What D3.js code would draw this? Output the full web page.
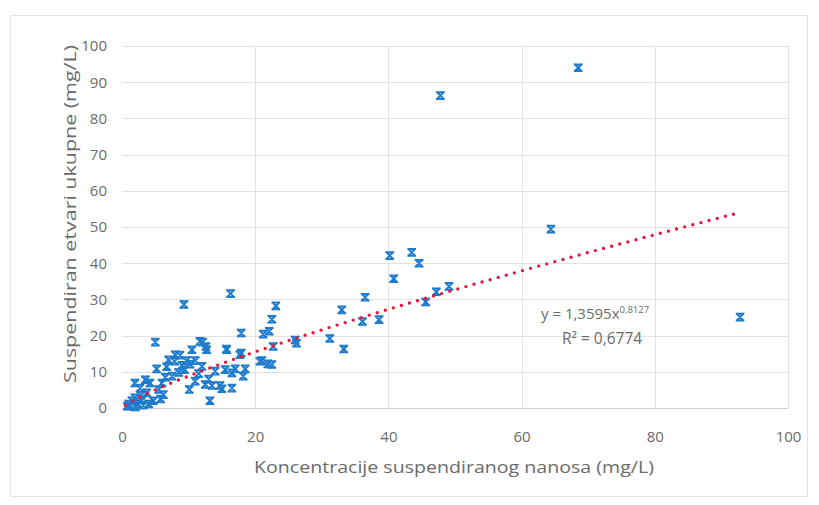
<!DOCTYPE html>
<html><head><meta charset="utf-8">
<script src="https://cdn.jsdelivr.net/npm/d3@7"></script>
<style>html,body{margin:0;padding:0;background:#fff;}svg{display:block;}</style>
</head><body>
<svg id="c" width="819" height="505"></svg>
<script>
const xConc = [68.5,47.8,64.4,92.8,40.2,43.5,44.6,40.8,36.5,33.0,36.1,38.6,31.2,33.3,45.6,47.2,49.1,
 23.1,22.5,22.1,21.2,22.7,26.0,26.2,16.3,9.3,5.0,17.9,12.1,12.6,11.7,10.5,15.7,17.9,21.0,21.9,20.7,22.5,
 7.9,9.7,11.0,6.7,5.2,9.4,7.5,11.5,14.0,15.5,17.0,18.5,18.2,16.5,11.0,12.5,13.5,14.7,15.0,10.1,16.5,13.2,
 1.95,3.5,4.2,2.7,6.0,5.5,3.7,6.2,4.7,4.0,1.95,2.4,1.2,1.5,1.0,3.2,8.0,7.0,8.7,12.7,17.7,15.7,
 9.0,10.2,12.0,8.5,6.5,13.0,2.8,3.0,5.8,0.8,2.0];
const ySusp = [94.0,86.3,49.4,25.1,42.1,43.0,40.0,35.7,30.6,27.1,23.9,24.4,19.2,16.3,29.3,32.1,33.6,
 28.2,24.5,21.2,20.4,17.0,18.8,17.9,31.6,28.6,18.2,20.7,18.2,17.0,18.4,16.1,16.3,15.2,13.1,12.2,12.9,12.0,
 12.9,13.1,13.1,11.4,10.8,10.6,8.8,9.5,10.2,10.6,10.8,10.8,8.8,9.7,7.4,6.5,6.2,6.2,5.3,5.1,5.5,2.0,
 6.9,7.8,6.9,5.5,6.9,5.1,4.2,3.7,2.0,1.1,2.8,1.1,0.6,2.0,1.1,0.8,14.7,13.3,14.6,16.1,14.7,16.1,
 11.8,12.1,11.5,9.8,8.5,8.0,3.5,2.2,2.5,0.5,0.3];
const xTicks = [0,20,40,60,80,100];
const yTicks = [0,10,20,30,40,50,60,70,80,90,100];
const trendA = 1.3595, trendB = 0.8127;
const trendRange = [0.5, 92.8];
const eqLabel = "y = 1,3595x";
const eqExp = "0,8127";
const r2Label = "R² = 0,6774";
const xTitle = "Koncentracije suspendiranog nanosa (mg/L)";
const yTitle = "Suspendiran etvari ukupne (mg/L)";

const svg = d3.select("#c");
const font = "'Open Sans', 'Noto Sans', sans-serif";
const txtCol = "#6b6b6b";
const x = d3.scaleLinear().domain([0,100]).range([122,788]);
const y = d3.scaleLinear().domain([0,100]).range([408,46]);

svg.append("rect").attr("x",10.5).attr("y",15.5).attr("width",797).attr("height",481)
  .attr("fill","#fff").attr("stroke","#e4e4e4");

// gridlines
svg.append("g").selectAll("line").data(yTicks).join("line")
  .attr("x1",x(0)).attr("x2",x(100)).attr("y1",d=>Math.round(y(d))+0.5).attr("y2",d=>Math.round(y(d))+0.5)
  .attr("stroke",d=>d===0?"#d0d0d0":"#e2e2e2").attr("stroke-width",1);
svg.append("g").selectAll("line").data(xTicks.filter(d=>d>0)).join("line")
  .attr("y1",y(0)).attr("y2",y(100)).attr("x1",d=>Math.round(x(d))+0.5).attr("x2",d=>Math.round(x(d))+0.5)
  .attr("stroke","#e2e2e2").attr("stroke-width",1);

// axes tick labels via d3 axes
const gx = svg.append("g").attr("transform",`translate(0,${y(0)})`)
  .call(d3.axisBottom(x).tickValues(xTicks).tickSize(0).tickPadding(23).tickFormat(d3.format("d")));
const gy = svg.append("g").attr("transform",`translate(${x(0)},0)`)
  .call(d3.axisLeft(y).tickValues(yTicks).tickSize(0).tickPadding(15).tickFormat(d3.format("d")));
[gx,gy].forEach(g=>{
  g.select(".domain").remove();
  g.selectAll("text").attr("fill",txtCol).style("font-family",font).style("font-size","15px");
});

// points
const mk = "M-3.3,-3.3 L3.3,3.3 M3.3,-3.3 L-3.3,3.3 M-3.3,-3.3 L3.3,-3.3 M-3.3,3.3 L3.3,3.3";
svg.append("g").selectAll("path").data(xConc.map((v,i)=>[v,ySusp[i]])).join("path")
  .attr("d",mk).attr("transform",d=>`translate(${x(d[0])},${y(d[1])})`)
  .attr("fill","none").attr("stroke","#1f7ccc").attr("stroke-width",2).attr("stroke-linecap","square");

// trendline
const tx = d3.range(0,201).map(i=>trendRange[0]+(trendRange[1]-trendRange[0])*i/200);
const line = d3.line().x(d=>x(d)).y(d=>y(trendA*Math.pow(d,trendB)));
svg.append("path").datum(tx).attr("d",line).attr("fill","none")
  .attr("stroke","#e8163a").attr("stroke-width",3.4).attr("stroke-linecap","round")
  .attr("stroke-dasharray","0 8.4");

// equation
const eq = svg.append("text").attr("x",541).attr("y",319).attr("fill",txtCol)
  .style("font-family",font).style("font-size","15px");
eq.append("tspan").text(eqLabel);
eq.append("tspan").attr("dy",-6).style("font-size","9.5px").text(eqExp);
svg.append("text").attr("x",562).attr("y",344).attr("fill",txtCol)
  .style("font-family",font).style("font-size","15.5px").text(r2Label);

// titles
svg.append("text").attr("x",454).attr("y",473).attr("text-anchor","middle").attr("fill",txtCol)
  .attr("textLength",400).attr("lengthAdjust","spacingAndGlyphs")
  .style("font-family",font).style("font-size","17px").text(xTitle);
svg.append("text").attr("transform",`translate(76,214) rotate(-90)`).attr("text-anchor","middle")
  .attr("textLength",338).attr("lengthAdjust","spacingAndGlyphs")
  .attr("fill",txtCol).style("font-family",font).style("font-size","16.5px").text(yTitle);
</script>
</body></html>
